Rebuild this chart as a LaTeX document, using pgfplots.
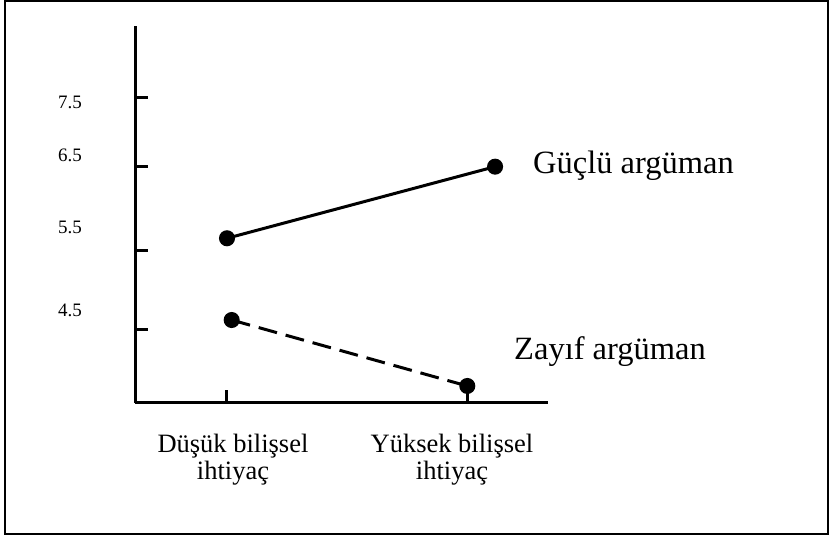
\documentclass[border=0pt]{standalone}
\usepackage{fontspec}
\setmainfont{Liberation Serif}
\usepackage{pgfplots}
\pgfplotsset{compat=1.18}
\begin{document}
\begin{tikzpicture}[x=1pt,y=1pt]
\useasboundingbox (0,0) rectangle (829,537);
\draw[line width=2pt] (5.3,2.5) rectangle (827.5,536);
\begin{axis}[
  at={(135pt,134pt)}, anchor=south west,
  scale only axis, width=413pt, height=377pt,
  xmin=-0.3833, xmax=1.3375, ymin=3.552, ymax=8.427,
  axis x line=bottom, axis y line=left,
  axis line style={-, line width=3pt},
  tick align=inside, major tick length=13pt,
  tick style={line width=3pt, black},
  clip=false,
  xtick={0,1}, xticklabels={},
  ytick={4.5,5.527,6.604,7.5}, yticklabels={},
  extra y ticks={4.753,5.826,6.757,7.444},
  extra y tick labels={4.5,5.5,6.5,7.5},
  extra y tick style={major tick length=0pt},
  extra x ticks={0.025,0.9375},
  extra x tick labels={{Düşük bilişsel\\ihtiyaç},{Yüksek bilişsel\\ihtiyaç}},
  extra x tick style={major tick length=0pt},
  yticklabel style={font=\fontsize{19}{19}\selectfont, anchor=east, inner sep=0pt, xshift=-53pt},
  xticklabel style={font=\fontsize{26.5}{27}\selectfont, align=center, anchor=north, inner sep=0pt, yshift=-31pt},
]
\addplot[black, line width=3pt, mark=*, mark size=6.5pt, mark options={solid, fill=black}]
  coordinates {(0,5.682) (1.117,6.608)};
\addplot[black, line width=3pt, dash pattern=on 19pt off 9pt, mark=*, mark size=6.5pt, mark options={solid, fill=black}]
  coordinates {(0.0196,4.625) (1.00125,3.772)};
\node[anchor=base west, inner sep=0pt, font=\fontsize{32.5}{32.5}\selectfont] at (axis cs:1.275,6.526) {Güçlü argüman};
\node[anchor=base west, inner sep=0pt, font=\fontsize{32.5}{32.5}\selectfont] at (axis cs:1.196,4.108) {Zayıf argüman};
\end{axis}
\end{tikzpicture}
\end{document}
